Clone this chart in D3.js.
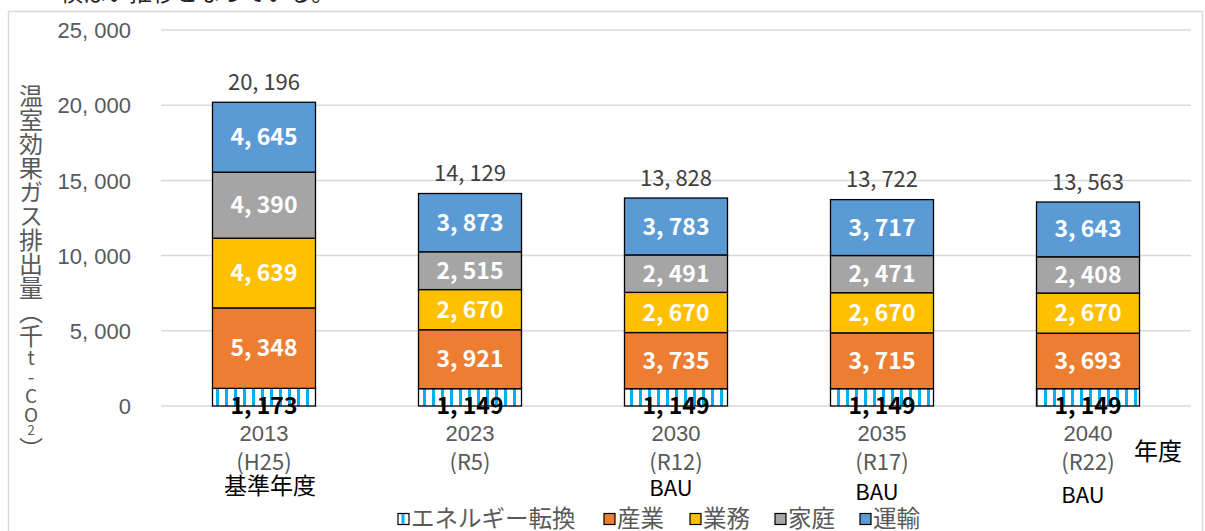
<!DOCTYPE html>
<html><head><meta charset="utf-8">
<script src="https://cdn.jsdelivr.net/npm/d3@7"></script>
<style>
html,body{margin:0;padding:0;background:#fff;}
svg{display:block;font-family:"Noto Sans CJK JP","Noto Sans",sans-serif;}
</style></head>
<body>
<svg id="chart" width="1205" height="531"></svg>
<script>
const years = ["2013", "2023", "2030", "2035", "2040"];
const eras = ["(H25)", "(R5)", "(R12)", "(R17)", "(R22)"];
const notes = ["基準年度", "", "BAU", "BAU", "BAU"];
const seriesNames = ["エネルギー転換", "産業", "業務", "家庭", "運輸"];
const energy = [1173, 1149, 1149, 1149, 1149];
const industry = [5348, 3921, 3735, 3715, 3693];
const business = [4639, 2670, 2670, 2670, 2670];
const household = [4390, 2515, 2491, 2471, 2408];
const transport = [4645, 3873, 3783, 3717, 3643];
const totals = [20196, 14129, 13828, 13722, 13563];
const yTicks = [0, 5000, 10000, 15000, 20000, 25000];
const colors = ["url(#stripe)", "#ED7D31", "#FFC000", "#A5A5A5", "#5B9BD5"];

const svg = d3.select("#chart");
const defs = svg.append("defs");
const pat = defs.append("pattern").attr("id","stripe").attr("patternUnits","userSpaceOnUse")
  .attr("width",9).attr("height",10).attr("x",213);
pat.append("rect").attr("width",9).attr("height",10).attr("fill","#fff");
pat.append("rect").attr("x",3).attr("width",3).attr("height",10).attr("fill","#00B0F0");

// cut-off caption at top
svg.append("text").attr("x",60).attr("y",1).attr("font-size",23).attr("fill","#222")
  .text("横ばい推移となっている。");

// frame
svg.append("rect").attr("x",8.5).attr("y",11.5).attr("width",1194).attr("height",530)
  .attr("fill","none").attr("stroke","#d9d9d9").attr("stroke-width",1.5);

const fmt = v => d3.format(",")(v).replace(",", ", ");
const y = d3.scaleLinear().domain([0,25000]).range([406,30]);
const x = d3.scaleBand().domain(years).range([161,1191]).paddingInner(0.5).paddingOuter(0.25);

// grid
svg.append("g").selectAll("line").data(yTicks).join("line")
  .attr("x1",161).attr("x2",1191).attr("y1",d=>y(d)).attr("y2",d=>y(d))
  .attr("stroke","#d9d9d9").attr("stroke-width",1.5);

// y axis labels
const yAxis = svg.append("g").attr("transform","translate(131,0)")
  .call(d3.axisLeft(y).tickValues(yTicks).tickSize(0).tickPadding(0).tickFormat(fmt));
yAxis.select(".domain").remove();
yAxis.selectAll("text").attr("font-size",22).attr("fill","#595959")
  .attr("font-family",null).attr("dy","0.35em");

// stacked data
const series = [energy, industry, business, household, transport];
const rows = years.map((yr,i)=>{const o={year:yr}; seriesNames.forEach((n,k)=>o[n]=series[k][i]); return o;});
const stack = d3.stack().keys(seriesNames)(rows);

const g = svg.append("g");
stack.forEach((layer,k)=>{
  g.append("g").selectAll("rect").data(layer).join("rect")
    .attr("x",d=>x(d.data.year)).attr("width",x.bandwidth())
    .attr("y",d=>y(d[1])).attr("height",d=>y(d[0])-y(d[1]))
    .attr("fill",colors[k]).attr("stroke","#000").attr("stroke-width",1.3);
});
// segment labels
stack.forEach((layer,k)=>{
  g.append("g").selectAll("text").data(layer).join("text")
    .attr("x",d=>x(d.data.year)+x.bandwidth()/2)
    .attr("y",d=>(y(d[0])+y(d[1]))/2 + (k===0?9:0))
    .attr("dy","0.35em").attr("text-anchor","middle")
    .attr("font-size",23).attr("font-weight","bold")
    .attr("fill",k===0?"#000":"#fff")
    .text(d=>fmt(d.data[seriesNames[k]]));
});
// totals
g.append("g").selectAll("text").data(years).join("text")
  .attr("x",d=>x(d)+x.bandwidth()/2).attr("y",(d,i)=>y(totals[i])-20)
  .attr("dy","0.35em").attr("text-anchor","middle").attr("font-size",22).attr("fill","#404040")
  .text((d,i)=>fmt(totals[i]));

// x axis labels
const xa = svg.append("g").attr("transform","translate(0,406)")
  .call(d3.axisBottom(x).tickSize(0).tickPadding(0));
xa.select(".domain").remove();
xa.selectAll("text").attr("font-size",22).attr("fill","#595959").attr("y",27).attr("dy","0.35em")
  .attr("font-family",null);
svg.append("g").selectAll("text").data(years).join("text")
  .attr("x",d=>x(d)+x.bandwidth()/2).attr("y",462).attr("dy","0.35em").attr("text-anchor","middle")
  .attr("font-size",22).attr("fill","#595959").text((d,i)=>eras[i]);
const noteY = [486, 0, 488, 492, 495];
svg.append("g").selectAll("text").data(years.filter((d,i)=>notes[i])).join("text")
  .attr("x",d=>x(d)+x.bandwidth()/2 + (d==="2013"?6:-5))
  .attr("y",d=>noteY[years.indexOf(d)]).attr("dy","0.35em").attr("text-anchor","middle")
  .attr("font-size",d=>d==="2013"?23:22).attr("fill","#000")
  .text(d=>notes[years.indexOf(d)]);
svg.append("text").attr("x",1158).attr("y",452).attr("dy","0.35em").attr("text-anchor","middle")
  .attr("font-size",24).attr("fill","#000").text("年度");

// y title vertical
svg.append("text").attr("x",31).attr("y",84)
  .attr("style","writing-mode:vertical-rl;text-orientation:upright;")
  .attr("font-size",24).attr("fill","#595959")
  .html("温室効果ガス排出量（千<tspan font-size='19'>t-CO</tspan><tspan font-size='13'>2</tspan>）");

// legend
const legX = [398, 604, 690, 775, 860];
const leg = svg.append("g").selectAll("g").data(seriesNames).join("g")
  .attr("transform",(d,i)=>`translate(${legX[i]},519)`);
leg.append("rect").attr("x",0).attr("y",-5.5).attr("width",11).attr("height",11)
  .attr("fill",(d,i)=>i===0?"#fff":colors[i]).attr("stroke","#000").attr("stroke-width",1.2);
leg.filter((d,i)=>i===0).append("rect").attr("x",3.5).attr("y",-5).attr("width",3).attr("height",10).attr("fill","#00B0F0");
leg.append("text").attr("x",13).attr("dy","0.35em").attr("font-size",23.5).attr("fill","#595959").text(d=>d);
</script>
</body></html>
